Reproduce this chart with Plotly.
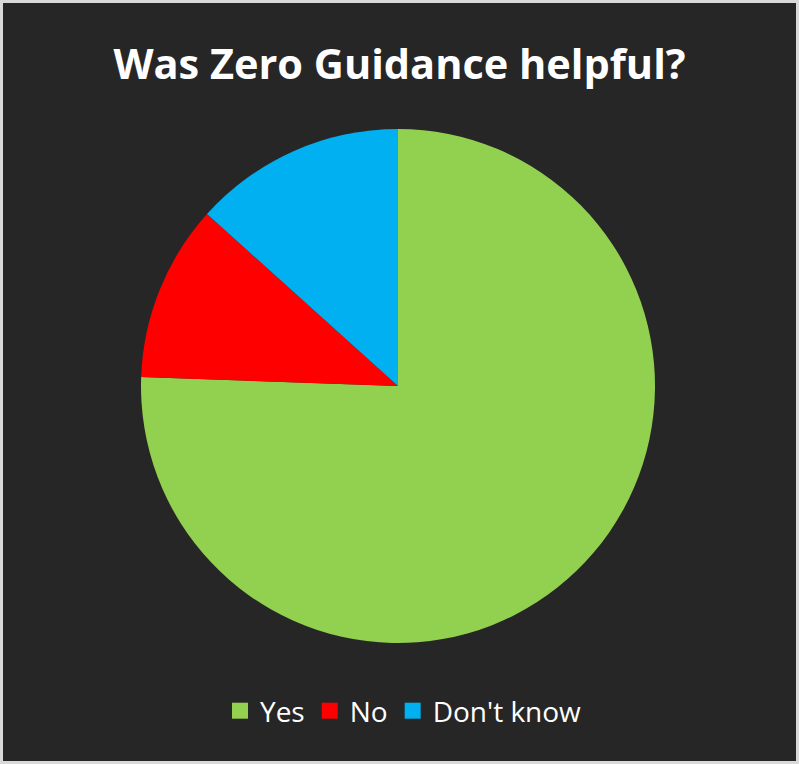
import plotly.graph_objects as go

W, H = 799, 764
categories = ["Yes", "No", "Don't know"]
values = [34, 5, 6]
colors = ["#92D050", "#FF0000", "#00B0F0"]
title_text = "Was Zero Guidance helpful?"

fig = go.Figure()
fig.add_trace(go.Pie(
    labels=categories, values=values, sort=False, direction="clockwise",
    rotation=0, marker=dict(colors=colors, line=dict(width=0)),
    textinfo="none", hoverinfo="label+value+percent", showlegend=False,
    domain=dict(x=[141 / W, 655 / W], y=[1 - 643 / H, 1 - 129 / H]),
))
for c, col in zip(categories, colors):
    fig.add_trace(go.Scatter(
        x=[None], y=[None], mode="markers", name=c,
        marker=dict(symbol="square", size=16, color=col),
        showlegend=True,
    ))

fig.update_layout(
    width=W, height=H,
    margin=dict(l=0, r=0, t=0, b=0),
    paper_bgcolor="#262626", plot_bgcolor="#262626",
    xaxis=dict(visible=False), yaxis=dict(visible=False),
    title=dict(text="<b>" + title_text + "</b>", x=0.5, xanchor="center",
               xref="paper", y=1 - 64 / H, yanchor="middle", yref="paper",
               font=dict(family="Open Sans", size=41.5, color="white")),
    legend=dict(orientation="h", x=0.505, xanchor="center", y=1 - 711 / H,
                yanchor="middle", font=dict(family="Open Sans", size=28, color="#FFFFFF"),
                itemsizing="trace", bgcolor="rgba(0,0,0,0)"),
    shapes=[dict(type="rect", xref="paper", yref="paper",
                 x0=1.5 / W, x1=1 - 1.5 / W, y0=1.5 / H, y1=1 - 1.5 / H,
                 line=dict(color="#D9D9D9", width=3), layer="above")],
)
fig.write_html("out.html", config={"displayModeBar": False},
               post_script="document.body.style.margin='0';document.body.style.overflow='hidden';")
